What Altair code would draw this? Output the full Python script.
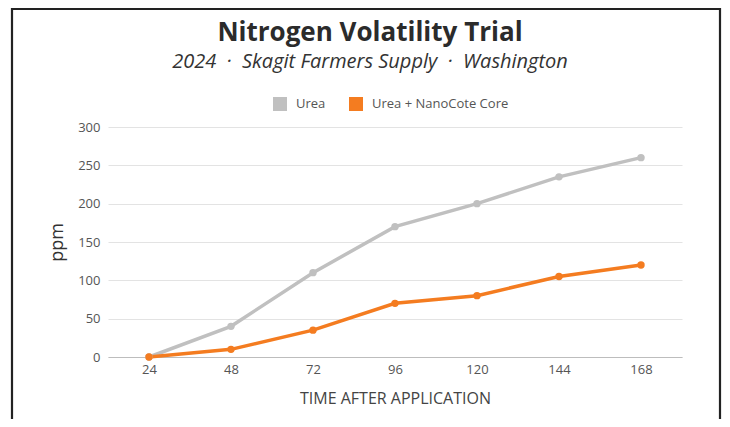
import altair as alt
import pandas as pd

hours = ["24", "48", "72", "96", "120", "144", "168"]
urea = [0, 40, 110, 170, 200, 235, 260]
nanocote = [0, 10, 35, 70, 80, 105, 120]
series_names = ["Urea", "Urea + NanoCote Core"]
series_colors = ["#c0c0c0", "#f47c20"]
y_ticks = [0, 50, 100, 150, 200, 250, 300]

rows = []
for h, u, n in zip(hours, urea, nanocote):
    rows.append({"hours": h, "series": series_names[0], "ppm": u})
    rows.append({"hours": h, "series": series_names[1], "ppm": n})
df = pd.DataFrame(rows)

FONT = "Open Sans"
SEP = "\u00a0\u00a0·\u00a0\u00a0"

base = alt.Chart(df).encode(
    x=alt.X("hours:O", sort=hours,
            scale=alt.Scale(type="point", padding=0.5),
            axis=alt.Axis(title="TIME AFTER APPLICATION", labelAngle=0,
                          labelFontSize=13, labelColor="#555", labelPadding=6,
                          titleFontSize=16, titleFontWeight="normal", titleColor="#444",
                          titlePadding=14, ticks=False, domain=True,
                          domainColor="#bdbdbd", domainWidth=1.2, grid=False)),
    y=alt.Y("ppm:Q", scale=alt.Scale(domain=[0, 300], nice=False),
            axis=alt.Axis(title="ppm", values=y_ticks, labelFontSize=13, labelColor="#555",
                          labelPadding=8, titleFontSize=18, titleFontWeight="normal",
                          titleColor="#333", titlePadding=11, ticks=False, domain=False,
                          grid=True, gridColor="#e3e3e3", gridWidth=1)),
    color=alt.Color("series:N", sort=series_names,
                    scale=alt.Scale(domain=series_names, range=series_colors),
                    legend=alt.Legend(title=None, orient="none", direction="horizontal",
                                      legendX=165, legendY=-30,
                                      symbolType="square", symbolSize=196,
                                      symbolStrokeWidth=0, labelFontSize=13,
                                      labelColor="#555", columnPadding=23,
                                      labelOffset=9, symbolOffset=0)),
    order=alt.Order("series:N"),
)

lines = base.mark_line(strokeWidth=3.5)
points = base.mark_circle(size=55, opacity=1)

frame = alt.Chart(pd.DataFrame({"a": [0]})).mark_rect(
    fill=None, stroke="#222222", strokeWidth=2.2
).encode(
    x=alt.value(-96), x2=alt.value(612), y=alt.value(-118), y2=alt.value(310)
)

chart = alt.layer(frame, lines, points).properties(
    width=574, height=230,
    title=alt.TitleParams(
        text="Nitrogen Volatility Trial",
        subtitle="2024" + SEP + "Skagit Farmers Supply" + SEP + "Washington",
        fontSize=26, fontWeight="bold", color="#2b2b2b", font=FONT,
        subtitleFontSize=20, subtitleFontStyle="italic", subtitleColor="#333",
        subtitleFont=FONT, subtitlePadding=6, anchor="middle", dx=-25, offset=-64,
    ),
    padding={"left": 100, "top": 119, "right": 40, "bottom": 62},
    autosize=alt.AutoSizeParams(type="none"),
).configure(font=FONT).configure_view(stroke=None)

chart.save("out.html", embed_options={"renderer": "svg", "actions": False})
